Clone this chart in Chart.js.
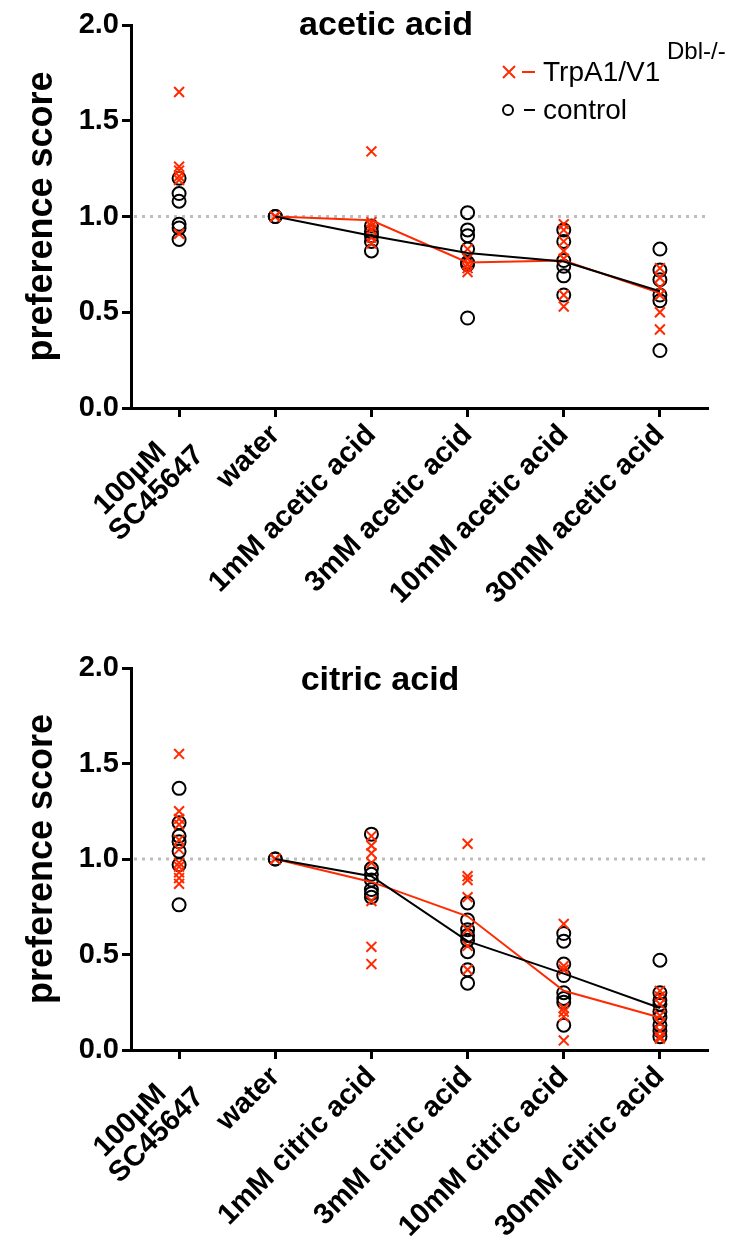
<!DOCTYPE html>
<html>
<head>
<meta charset="utf-8">
<script src="https://cdn.jsdelivr.net/npm/chart.js@4.4.0/dist/chart.umd.min.js"></script>
<style>
  body { margin: 0; background: #fff; }
  #wrap { position: relative; width: 738px; height: 1247px; }
  canvas { position: absolute; left: 0; }
</style>
</head>
<body>
<div id="wrap">
  <canvas id="acetic" width="738" height="640" style="top:0"></canvas>
  <canvas id="citric" width="738" height="607" style="top:640px"></canvas>
</div>
<script>
// categories
const aceticLabels = ['100µM SC45647', 'water', '1mM acetic acid', '3mM acetic acid', '10mM acetic acid', '30mM acetic acid'];
const citricLabels = ['100µM SC45647', 'water', '1mM citric acid', '3mM citric acid', '10mM citric acid', '30mM citric acid'];
// first label is two lines, roughly left aligned like in the original figure
const firstLabelLines = ['100µM   ', 'SC45647'];
const yTicks = [0, 0.5, 1.0, 1.5, 2.0];

// acetic acid - individual flies, one list per category
const aceticKO = [
  [1.65, 1.26, 1.24, 1.21, 1.19, 0.91],
  [1.0, 1.0, 1.0],
  [1.34, 0.97, 0.95, 0.93, 0.89, 0.86],
  [0.83, 0.78, 0.75, 0.73, 0.71],
  [0.96, 0.93, 0.87, 0.82, 0.78, 0.59, 0.53],
  [0.73, 0.68, 0.63, 0.59, 0.50, 0.41]
];
const aceticCtrl = [
  [1.20, 1.12, 1.08, 0.96, 0.94, 0.88],
  [1.0, 1.0],
  [0.95, 0.92, 0.90, 0.87, 0.82],
  [1.02, 0.93, 0.90, 0.83, 0.76, 0.75, 0.47],
  [0.93, 0.87, 0.77, 0.74, 0.69, 0.59],
  [0.83, 0.72, 0.67, 0.59, 0.56, 0.30]
];
const aceticKOMean = [null, 1.0, 0.98, 0.76, 0.77, 0.60];
const aceticCtrlMean = [null, 1.0, 0.90, 0.81, 0.765, 0.61];

// citric acid
const citricKO = [
  [1.55, 1.25, 1.21, 1.18, 1.10, 1.05, 0.98, 0.96, 0.93, 0.90, 0.87],
  [1.0, 1.0],
  [1.12, 1.07, 1.03, 0.98, 0.78, 0.54, 0.45],
  [1.08, 0.91, 0.89, 0.80, 0.63, 0.545, 0.42],
  [0.66, 0.44, 0.42, 0.22, 0.20, 0.175, 0.05],
  [0.31, 0.28, 0.24, 0.18, 0.14, 0.10, 0.07, 0.06]
];
const citricCtrl = [
  [1.37, 1.19, 1.12, 1.09, 1.04, 0.97, 0.76],
  [1.0, 1.0],
  [1.13, 0.95, 0.92, 0.89, 0.84, 0.82, 0.80],
  [0.77, 0.68, 0.63, 0.60, 0.575, 0.515, 0.42, 0.35],
  [0.61, 0.57, 0.45, 0.39, 0.30, 0.27, 0.25, 0.13],
  [0.47, 0.30, 0.26, 0.24, 0.20, 0.17, 0.13, 0.10, 0.07]
];
const citricKOMean = [null, 1.0, 0.88, 0.70, 0.31, 0.17];
const citricCtrlMean = [null, 1.0, 0.91, 0.57, 0.40, 0.22];

const RED = '#ff2a00';
const FONT = '"Liberation Sans", Arial, Helvetica, sans-serif';

// turn per-category lists into {x: label, y: value} points
function toPoints(labels, groups) {
  return groups.flatMap((vals, i) => vals.map(v => ({ x: labels[i], y: v })));
}

// grey dotted line at 1.0 and the panel title
const extras = {
  id: 'extras',
  beforeDatasetsDraw(chart) {
    const { ctx, chartArea } = chart;
    const y = chart.scales.y.getPixelForValue(1);
    ctx.save();
    ctx.strokeStyle = '#bdbdbd';
    ctx.lineWidth = 3;
    ctx.setLineDash([3, 5]);
    ctx.beginPath();
    ctx.moveTo(chartArea.left + 3, y);
    ctx.lineTo(chartArea.right, y);
    ctx.stroke();
    ctx.restore();
  },
  afterDraw(chart, args, opts) {
    const ctx = chart.ctx;
    ctx.save();
    ctx.fillStyle = '#000';
    ctx.font = 'bold 34px ' + FONT;
    ctx.textAlign = 'center';
    ctx.textBaseline = 'middle';
    ctx.fillText(opts.title, opts.titleX, opts.titleY);
    ctx.restore();
  }
};

// legend with superscript, only on the top panel
const legendPlugin = {
  id: 'supLegend',
  afterDraw(chart, args, opts) {
    if (!opts.show) return;
    const ctx = chart.ctx;
    ctx.save();
    ctx.lineWidth = 2;
    // KO row
    ctx.strokeStyle = RED;
    ctx.beginPath();
    ctx.moveTo(503, 66); ctx.lineTo(515, 78);
    ctx.moveTo(515, 66); ctx.lineTo(503, 78);
    ctx.moveTo(522, 72); ctx.lineTo(535, 72);
    ctx.stroke();
    ctx.fillStyle = '#000';
    ctx.textBaseline = 'middle';
    ctx.font = '28px ' + FONT;
    ctx.fillText('TrpA1/V1', 543, 73);
    ctx.font = '24px ' + FONT;
    ctx.fillText('Dbl-/-', 667, 52);
    // control row
    ctx.strokeStyle = '#000';
    ctx.beginPath();
    ctx.arc(508, 110, 5, 0, Math.PI * 2);
    ctx.stroke();
    ctx.beginPath();
    ctx.moveTo(524, 110); ctx.lineTo(535, 110);
    ctx.stroke();
    ctx.font = '28px ' + FONT;
    ctx.fillText('control', 543, 111);
    ctx.restore();
  }
};

function makeChart(id, labels, ko, ctrl, koMean, ctrlMean, o) {
  return new Chart(document.getElementById(id), {
    type: 'line',
    data: {
      labels: labels,
      datasets: [
        {
          label: 'control mean', data: ctrlMean, borderColor: '#000', borderWidth: 2,
          pointRadius: 0, fill: false, tension: 0, order: 0
        },
        {
          label: 'TrpA1/V1 mean', data: koMean, borderColor: RED, borderWidth: 2,
          pointRadius: 0, fill: false, tension: 0, order: 0
        },
        {
          label: 'control', data: toPoints(labels, ctrl), showLine: false,
          pointStyle: 'circle', pointRadius: 6.5, pointBorderWidth: 2,
          pointBorderColor: '#000', pointBackgroundColor: 'rgba(0,0,0,0)', order: 2
        },
        {
          label: 'TrpA1/V1', data: toPoints(labels, ko), showLine: false,
          pointStyle: 'crossRot', pointRadius: 7, pointBorderWidth: 2,
          pointBorderColor: RED, order: 1
        }
      ]
    },
    options: {
      responsive: false,
      animation: false,
      events: [],
      layout: { padding: { top: o.padTop, right: 30, bottom: 0, left: 0 } },
      plugins: {
        legend: { display: false },
        tooltip: { enabled: false },
        extras: { title: o.title, titleX: o.titleX, titleY: o.titleY },
        supLegend: { show: o.legend }
      },
      scales: {
        x: {
          type: 'category',
          offset: true,
          grid: { drawOnChartArea: false, offset: false, tickLength: 9, tickWidth: 3, tickColor: '#000' },
          border: { color: '#000', width: 3 },
          ticks: {
            autoSkip: false, maxRotation: 45, minRotation: 45, padding: 3,
            color: '#000', font: { family: FONT, size: 29, weight: 'bold', lineHeight: 1.0 },
            callback(val, i) { return i === 0 ? firstLabelLines : this.getLabelForValue(val); }
          },
          afterFit(scale) { scale.height = o.xHeight; }
        },
        y: {
          min: 0, max: 2,
          afterBuildTicks(scale) { scale.ticks = yTicks.map(v => ({ value: v })); },
          grid: { drawOnChartArea: false, tickLength: 9, tickWidth: 3, tickColor: '#000' },
          border: { color: '#000', width: 3 },
          ticks: {
            padding: 3, color: '#000',
            font: { family: FONT, size: 29, weight: 'bold' },
            callback: v => v.toFixed(1)
          },
          title: {
            display: true, text: 'preference score', color: '#000',
            font: { family: FONT, size: 36, weight: 'bold' },
            padding: { top: 20, bottom: 0 }
          },
          afterFit(scale) { scale.width = 131; }
        }
      }
    },
    plugins: [extras, legendPlugin]
  });
}

makeChart('acetic', aceticLabels, aceticKO, aceticCtrl, aceticKOMean, aceticCtrlMean,
  { padTop: 25, xHeight: 232, title: 'acetic acid', titleX: 386, titleY: 26, legend: true });
makeChart('citric', citricLabels, citricKO, citricCtrl, citricKOMean, citricCtrlMean,
  { padTop: 28, xHeight: 197, title: 'citric acid', titleX: 380, titleY: 41, legend: false });
</script>
</body>
</html>
